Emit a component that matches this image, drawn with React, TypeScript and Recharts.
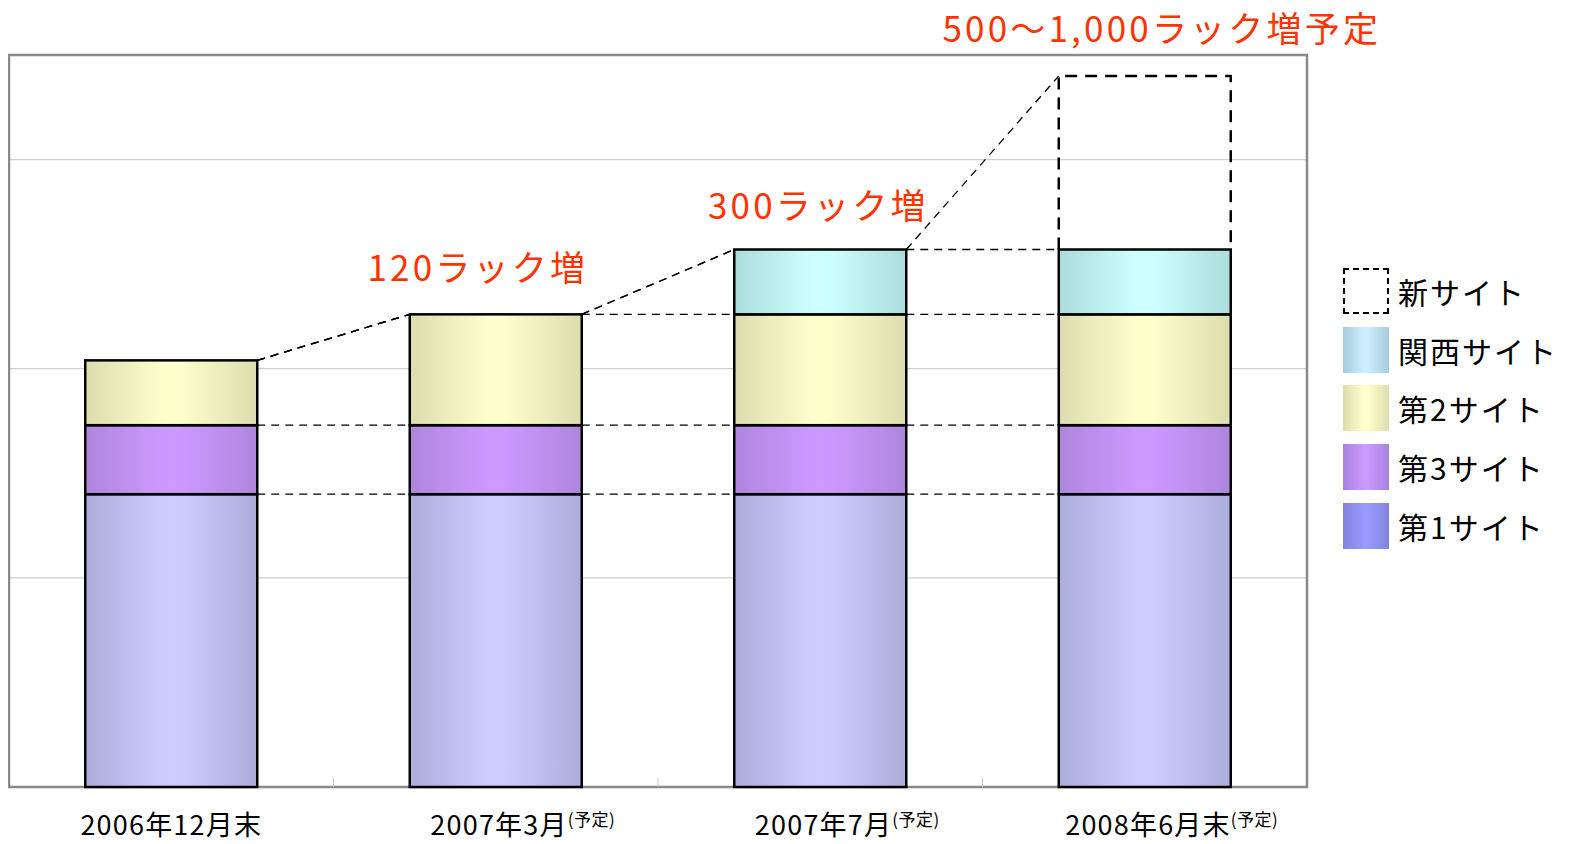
import React from 'react'
import {
  BarChart,
  Bar,
  XAxis,
  YAxis,
  CartesianGrid,
  ReferenceArea,
  ReferenceDot,
} from 'recharts'

const categories = ['2006年12月末', '2007年3月', '2007年7月', '2008年6月末']
const notes = ['', '(予定)', '(予定)', '(予定)']

// stack order bottom -> top
const site1 = [1.4, 1.4, 1.4, 1.4]
const site3 = [0.33, 0.33, 0.33, 0.33]
const site2 = [0.31, 0.53, 0.53, 0.53]
const kansai = [0, 0, 0.31, 0.31]
const newSite = [0, 0, 0, 0.83]

const yTicks = [0, 1, 2, 3, 3.5]

const annotations = [
  { cat: '2007年3月', y: 2.42, text: '120ラック増', dx: -18 },
  { cat: '2007年7月', y: 2.716, text: '300ラック増', dx: -2 },
  { cat: '2008年6月末', y: 3.562, text: '500～1,000ラック増予定', dx: 17 },
]

const keys = ['s1', 's3', 's2', 'kansai', 'shin']

const data = categories.map((name, i) => ({
  name,
  note: notes[i],
  s1: site1[i],
  s3: site3[i],
  s2: site2[i],
  kansai: kansai[i],
  shin: newSite[i],
}))

const GAP = 0.235
const RED = '#ff3300'
const FONT = '"Noto Sans CJK JP", "Noto Sans", sans-serif'

const legendItems = [
  { label: '新サイト', dashed: true, dark: '', light: '' },
  { label: '関西サイト', dashed: false, dark: '#a8cbdc', light: '#cceeff' },
  { label: '第2サイト', dashed: false, dark: '#dcdcae', light: '#ffffcc' },
  { label: '第3サイト', dashed: false, dark: '#a882dc', light: '#cc99ff' },
  { label: '第1サイト', dashed: false, dark: '#8282dc', light: '#9999ff' },
]

const gradients = [
  { id: 'g-s1', dark: '#adaddb', light: '#ccccff' },
  { id: 'g-s3', dark: '#ae86dc', light: '#cc99ff' },
  { id: 'g-s2', dark: '#dcdcae', light: '#ffffcc' },
  { id: 'g-kansai', dark: '#acdcdc', light: '#ccffff' },
]

const cumTops = (row: any) => {
  let acc = 0
  return keys.map((k) => (acc += row[k]))
}

// bottom segment also draws the dashed series lines and the boundary ticks
const BaseShape = (props: any) => {
  const { x, y, width, height, index, payload } = props
  const k = height / payload.s1
  const base = y + height
  const band = width / (1 - 2 * GAP)
  const next = data[index + 1]
  const lines: React.ReactNode[] = []
  if (next) {
    const a = cumTops(payload)
    const b = cumTops(next)
    a.forEach((v, j) => {
      lines.push(
        <line
          key={'c' + j}
          x1={x + width}
          y1={base - v * k}
          x2={x + band}
          y2={base - b[j] * k}
          stroke="#000"
          strokeWidth={1.3}
          strokeDasharray="8 6"
        />
      )
    })
    const tx = x + width + band * GAP
    lines.push(
      <line key="t" x1={tx} y1={base} x2={tx} y2={base - 9} stroke="#c8c8c8" strokeWidth={1} />
    )
  }
  return (
    <g>
      {lines}
      <rect x={x} y={y} width={width} height={height} fill="url(#g-s1)" stroke="#000" strokeWidth={2.5} />
    </g>
  )
}

const makeShape = (grad: string) => (props: any) => {
  const { x, y, width, height } = props
  if (!height) return <g />
  return <rect x={x} y={y} width={width} height={height} fill={`url(#${grad})`} stroke="#000" strokeWidth={2.5} />
}

const NewShape = (props: any) => {
  const { x, y, width, height } = props
  if (!height) return <g />
  return (
    <path
      d={`M${x},${y + height} L${x},${y} L${x + width},${y} L${x + width},${y + height}`}
      fill="none"
      stroke="#000"
      strokeWidth={2.5}
      strokeDasharray="12 8"
    />
  )
}

const Tick = (props: any) => {
  const { x, y, payload, index } = props
  const note = notes[index]
  return (
    <text
      x={x + (note ? 27 : 0)}
      y={y + 40}
      textAnchor="middle"
      fontFamily={FONT}
      fontSize={27}
      letterSpacing={1.2}
      fill="#000"
    >
      <tspan>{payload.value}</tspan>
      {note ? (
        <tspan fontSize={17} dy={-9} letterSpacing={0.5}>
          {note}
        </tspan>
      ) : null}
    </text>
  )
}

const AnnoShape = (text: string, dx: number) => (props: any) => (
  <text
    x={props.cx + dx}
    y={props.cy}
    textAnchor="middle"
    fontFamily={FONT}
    fontSize={35}
    letterSpacing={3.2}
    fill={RED}
  >
    {text}
  </text>
)

export default function App() {
  return (
    <div style={{ position: 'relative', width: 1570, height: 844, marginTop: -8, marginLeft: -8 }}>
      <svg width={0} height={0} style={{ position: 'absolute' }}>
        <defs>
          {gradients.map((g) => (
            <linearGradient key={g.id} id={g.id} x1="0" y1="0" x2="1" y2="0">
              <stop offset="0" stopColor={g.dark} />
              <stop offset="0.45" stopColor={g.light} />
              <stop offset="0.55" stopColor={g.light} />
              <stop offset="1" stopColor={g.dark} />
            </linearGradient>
          ))}
        </defs>
      </svg>
      <BarChart
        width={1570}
        height={844}
        data={data}
        margin={{ top: 55, right: 263, bottom: 0, left: 9 }}
        barCategoryGap={`${GAP * 100}%`}
      >
        <CartesianGrid vertical={false} stroke="#cfcfcf" strokeWidth={1.2} />
        <XAxis dataKey="name" height={57} axisLine={false} tickLine={false} tick={<Tick />} interval={0} />
        <YAxis hide domain={[0, 3.5]} ticks={yTicks} />
        <ReferenceArea y1={0} y2={3.5} fill="none" stroke="#8a8a8a" strokeWidth={2.5} />
        <Bar dataKey="s1" stackId="a" shape={BaseShape} isAnimationActive={false} />
        <Bar dataKey="s3" stackId="a" shape={makeShape('g-s3')} isAnimationActive={false} />
        <Bar dataKey="s2" stackId="a" shape={makeShape('g-s2')} isAnimationActive={false} />
        <Bar dataKey="kansai" stackId="a" shape={makeShape('g-kansai')} isAnimationActive={false} />
        <Bar dataKey="shin" stackId="a" shape={NewShape} isAnimationActive={false} />
        {annotations.map((a) => (
          <ReferenceDot
            key={a.text}
            x={a.cat}
            y={a.y}
            r={0}
            ifOverflow="visible"
            shape={AnnoShape(a.text, a.dx)}
          />
        ))}
      </BarChart>
      <div style={{ position: 'absolute', left: 1343, top: 268, fontFamily: FONT }}>
        {legendItems.map((it) => (
          <div key={it.label} style={{ display: 'flex', alignItems: 'center', height: 46, marginBottom: 12.7 }}>
            <div
              style={{
                width: it.dashed ? 42 : 46,
                height: it.dashed ? 42 : 46,
                boxSizing: 'content-box',
                border: it.dashed ? '2px dashed #000' : 'none',
                background: it.dashed
                  ? 'none'
                  : `linear-gradient(90deg, ${it.dark} 0%, ${it.light} 45%, ${it.light} 55%, ${it.dark} 100%)`,
              }}
            />
            <span style={{ marginLeft: 9, fontSize: 30, letterSpacing: 2, lineHeight: '46px', color: '#000' }}>
              {it.label}
            </span>
          </div>
        ))}
      </div>
    </div>
  )
}
